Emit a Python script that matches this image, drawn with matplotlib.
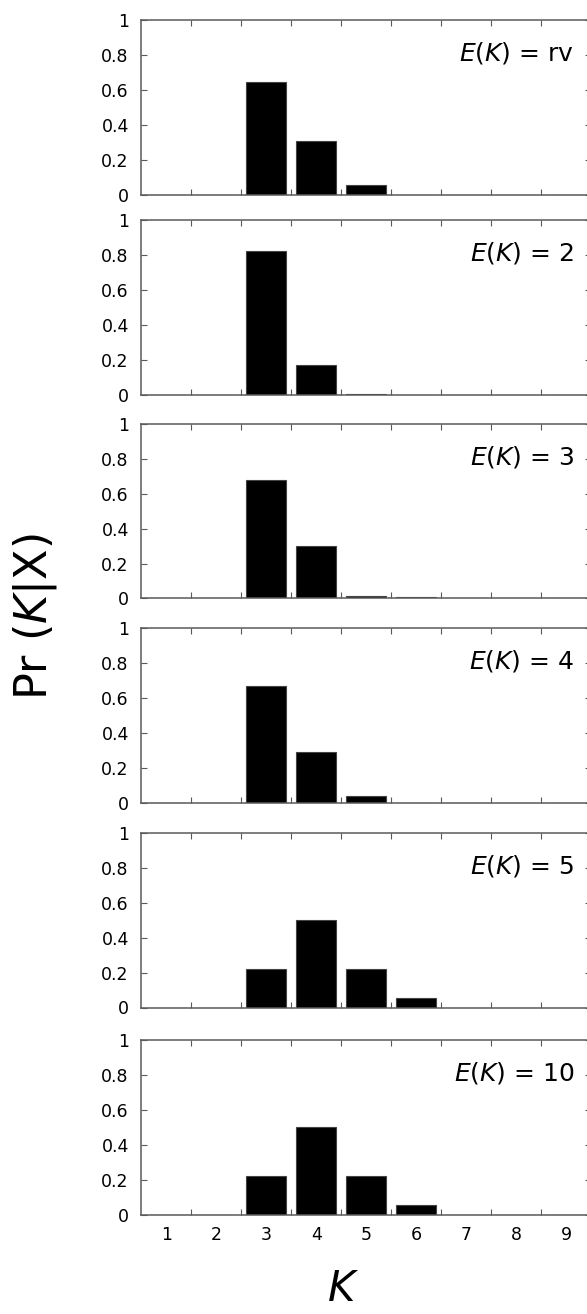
import numpy as np
import matplotlib
matplotlib.use("Agg")
import matplotlib.pyplot as plt

# K values and posterior probabilities Pr(K|X) for each prior E(K)
k_vals = [1, 2, 3, 4, 5, 6, 7, 8, 9]
prior_labels = ["rv", "2", "3", "4", "5", "10"]
pr_rv = [0, 0, 0.647, 0.305, 0.053, 0, 0, 0, 0]
pr_2 = [0, 0, 0.82, 0.17, 0.005, 0, 0, 0, 0]
pr_3 = [0, 0, 0.68, 0.30, 0.015, 0.01, 0, 0, 0]
pr_4 = [0, 0, 0.67, 0.29, 0.035, 0, 0, 0, 0]
pr_5 = [0, 0, 0.22, 0.50, 0.22, 0.055, 0, 0, 0]
pr_10 = [0, 0, 0.22, 0.50, 0.22, 0.055, 0, 0, 0]
all_pr = [pr_rv, pr_2, pr_3, pr_4, pr_5, pr_10]

yticks = [0, 0.2, 0.4, 0.6, 0.8, 1]
ytick_labels = ["0", "0.2", "0.4", "0.6", "0.8", "1"]

W, H = 587, 1314
fig = plt.figure(figsize=(W / 100, H / 100), dpi=100)

spine_col = "#5a5a5a"
panel_tops = [20, 220, 424, 628, 833, 1040]
panel_h = 174.5
left_px, right_px = 141.3, 591.3

for i, (top, vals, lab) in enumerate(zip(panel_tops, all_pr, prior_labels)):
    ax = fig.add_axes([left_px / W, 1 - (top + panel_h) / H,
                       (right_px - left_px) / W, panel_h / H])
    ax.bar(k_vals, vals, width=0.8, color="black", edgecolor="#444444", linewidth=0.8)
    ax.set_xlim(0.5, 9.5)
    ax.set_ylim(0, 1)
    ax.set_yticks(yticks)
    ax.set_yticklabels(ytick_labels, fontsize=12.5)
    ax.set_xticks(k_vals)
    ax.set_xticks(np.arange(1.5, 9.0, 1.0), minor=True)
    ax.tick_params(axis="x", which="major", length=0, pad=8, labelsize=12.5,
                   labelbottom=(i == len(all_pr) - 1))
    ax.tick_params(axis="x", which="minor", direction="in", length=4,
                   width=0.8, color=spine_col, top=True, bottom=True)
    ax.tick_params(axis="y", which="major", direction="in", length=4, width=0.8,
                   color=spine_col, left=True, right=True, pad=9)
    for s in ax.spines.values():
        s.set_color(spine_col)
        s.set_linewidth(1.1)
    ax.text(9.16, 0.81, r"$\mathit{E}$($\mathit{K}$) = " + lab, ha="right", va="center",
            fontsize=18)

fig.text(35 / W, 1 - 617 / H, r"Pr ($\mathit{K}$|X)", rotation=90, ha="center",
         va="center", fontsize=32)
fig.text(343 / W, 1 - 1289 / H, r"$\mathit{K}$", ha="center", va="center", fontsize=30)

fig.savefig("out.png", dpi=100)
